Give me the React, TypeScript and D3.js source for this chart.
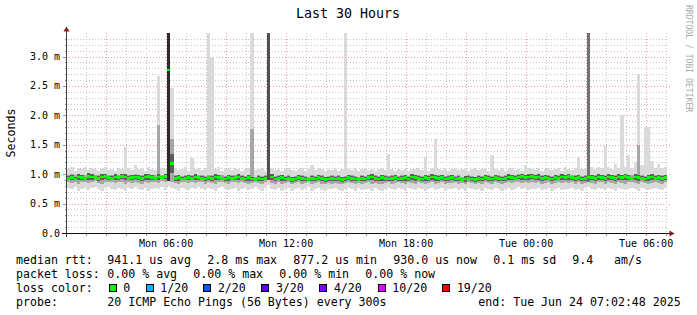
import React from "react";
import * as d3 from "d3";

// ---- data (values in hundredths of a millisecond, one slot = 10 minutes) ----
const startHour = 1 + 2 / 60 + 48 / 3600; // Mon 01:02:48
const spanHours = 30;
const slotHours = 1 / 6;

const medianRtt = [
  93, 94, 92, 95, 94, 93, 96, 95, 94, 93, 95, 96, 94, 93, 95, 94, 96, 95, 93, 94,
  95, 94, 93, 95, 96, 94, 93, 95, 94, 96, 277, 118, 93, 94, 92, 93, 94, 93, 95, 94,
  93, 92, 94, 93, 95, 94, 93, 92, 94, 93, 94, 95, 93, 92, 94, 92, 91, 93, 92, 93,
  500, 95, 92, 93, 94, 92, 93, 91, 92, 94, 93, 92, 91, 93, 92, 94, 93, 91, 92, 93,
  92, 93, 91, 92, 94, 93, 92, 91, 93, 92, 94, 95, 93, 92, 94, 93, 92, 93, 94, 92,
  93, 94, 92, 95, 94, 93, 92, 94, 93, 95, 94, 93, 94, 92, 93, 94, 92, 93, 91, 92,
  93, 92, 91, 93, 92, 94, 93, 92, 94, 93, 92, 93, 95, 94, 93, 95, 96, 94, 95, 96,
  94, 95, 93, 94, 93, 92, 94, 93, 95, 94, 96, 94, 93, 94, 92, 93, 95, 94, 93, 95,
  94, 93, 95, 94, 93, 95, 94, 96, 94, 93, 95, 94, 93, 92, 94, 95, 93, 94, 93, 94,
];
const minPing = [
  76, 74, 78, 72, 75, 77, 73, 76, 79, 74, 72, 76, 78, 75, 73, 77, 74, 71, 76, 75,
  78, 74, 73, 76, 72, 75, 77, 74, 78, 73, 80, 76, 74, 72, 77, 75, 73, 76, 74, 78,
  75, 73, 77, 74, 72, 76, 78, 74, 73, 75, 77, 72, 74, 76, 73, 75, 78, 74, 72, 76,
  82, 74, 73, 76, 72, 75, 77, 71, 74, 76, 73, 75, 78, 72, 74, 76, 73, 71, 75, 74,
  76, 73, 72, 75, 77, 74, 72, 76, 73, 75, 74, 72, 76, 73, 71, 75, 77, 74, 73, 76,
  74, 72, 76, 75, 73, 77, 74, 72, 75, 76, 73, 74, 77, 72, 75, 74, 76, 73, 75, 72,
  76, 74, 73, 75, 72, 76, 74, 73, 77, 75, 72, 74, 76, 73, 75, 78, 74, 76, 73, 75,
  74, 76, 73, 75, 77, 72, 74, 76, 73, 75, 74, 77, 73, 75, 72, 76, 78, 74, 73, 76,
  75, 73, 77, 74, 72, 76, 74, 73, 75, 77, 74, 72, 76, 75, 73, 74, 76, 75, 73, 76,
];
const lowerQuartile = [
  86, 85, 87, 84, 86, 87, 85, 86, 88, 85, 84, 86, 87, 86, 85, 87, 86, 84, 86, 85,
  87, 85, 84, 86, 85, 86, 87, 85, 88, 86, 88, 86, 85, 84, 87, 86, 85, 86, 85, 87,
  86, 84, 87, 85, 84, 86, 87, 85, 84, 86, 87, 85, 86, 85, 84, 85, 86, 85, 84, 86,
  90, 85, 84, 86, 84, 85, 86, 83, 85, 86, 84, 85, 86, 84, 85, 86, 84, 83, 85, 84,
  85, 84, 83, 85, 86, 85, 84, 85, 84, 85, 86, 84, 85, 84, 83, 85, 86, 84, 85, 86,
  85, 84, 86, 85, 84, 86, 85, 84, 85, 86, 84, 85, 86, 84, 85, 85, 86, 84, 85, 83,
  86, 85, 84, 85, 84, 86, 85, 84, 86, 85, 84, 85, 86, 85, 86, 87, 85, 86, 85, 86,
  85, 86, 84, 85, 86, 84, 85, 86, 85, 86, 85, 87, 84, 86, 84, 85, 87, 85, 84, 86,
  86, 84, 86, 85, 84, 86, 85, 84, 86, 87, 85, 84, 86, 85, 84, 85, 86, 85, 84, 86,
];
const upperQuartile = [
  99, 100, 98, 101, 99, 98, 102, 100, 99, 98, 100, 101, 99, 98, 100, 99, 101, 100, 98, 99,
  100, 99, 98, 100, 101, 99, 98, 183, 99, 101, 400, 160, 98, 99, 97, 98, 99, 98, 100, 99,
  98, 97, 99, 98, 100, 99, 98, 97, 99, 98, 99, 100, 98, 97, 99, 176, 96, 98, 97, 98,
  500, 100, 97, 98, 99, 97, 98, 96, 97, 99, 98, 97, 96, 98, 97, 99, 98, 96, 97, 98,
  97, 98, 96, 97, 99, 98, 97, 96, 98, 97, 99, 100, 98, 97, 99, 98, 97, 98, 99, 97,
  98, 99, 97, 100, 99, 98, 97, 99, 98, 100, 99, 98, 99, 97, 98, 99, 97, 98, 96, 97,
  98, 97, 96, 98, 97, 99, 98, 97, 99, 98, 97, 98, 100, 99, 98, 100, 101, 99, 100, 101,
  99, 100, 98, 99, 98, 97, 99, 98, 100, 99, 101, 99, 98, 99, 97, 98, 400, 99, 98, 100,
  99, 98, 100, 99, 98, 100, 99, 101, 99, 98, 100, 150, 98, 97, 99, 100, 98, 99, 98, 99,
];
const maxPing = [
  108, 112, 106, 110, 109, 113, 107, 111, 108, 106, 110, 112, 107, 109, 105, 111, 108, 146, 110, 107,
  115, 108, 110, 106, 112, 109, 107, 267, 111, 108, 400, 247, 110, 107, 109, 112, 106, 127, 108, 110,
  107, 111, 400, 300, 109, 112, 106, 108, 110, 107, 111, 109, 106, 108, 110, 400, 107, 109, 111, 106,
  500, 110, 107, 109, 106, 108, 110, 107, 105, 109, 111, 106, 108, 115, 107, 110, 108, 106, 109, 107,
  110, 106, 108, 400, 109, 107, 110, 106, 108, 111, 107, 109, 106, 108, 110, 107, 134, 109, 106, 108,
  107, 110, 106, 109, 108, 111, 107, 129, 106, 110, 159, 108, 107, 110, 106, 109, 111, 107, 108, 110,
  106, 109, 111, 107, 108, 110, 106, 132, 109, 107, 110, 106, 108, 111, 107, 109, 106, 115, 110, 108,
  107, 110, 106, 109, 111, 107, 108, 110, 106, 112, 109, 107, 111, 129, 108, 110, 400, 112, 109, 113,
  110, 148, 112, 109, 118, 111, 200, 113, 132, 110, 121, 271, 115, 180, 180, 122, 111, 118, 110, 112,
];
// slots where the smoke is dense (many pings high)
const denseSlots = [30, 60, 156];
const denseShade = ["#2c2c2c", "#505050", "#727272"];

const yTickValues = [0, 0.5, 1, 1.5, 2, 2.5, 3];
const yTickLabels = ["0.0", "0.5 m", "1.0 m", "1.5 m", "2.0 m", "2.5 m", "3.0 m"];
const xLabelHours = [6, 12, 18, 24, 30];
const xLabels = ["Mon 06:00", "Mon 12:00", "Mon 18:00", "Tue 00:00", "Tue 06:00"];

const lossColors = ["#00ff00", "#00b8ff", "#0059ff", "#5e00ff", "#7e00ff", "#dd00ff", "#ff0000"];
const lossLabels = ["0", "1/20", "2/20", "3/20", "4/20", "10/20", "19/20"];
const lossBoxX = [108.7, 145.7, 203.3, 261.3, 319.3, 377.7, 442.3];

const legendRows = [
  { y: 263.5, items: [["median rtt:", 16], ["941.1 us avg", 107.3], ["2.8 ms max", 207.3], ["877.2 us min", 293.3], ["930.0 us now", 393.3], ["0.1 ms sd", 493.3], ["9.4", 572.3], ["am/s", 614]] },
  { y: 277.5, items: [["packet loss:", 16], ["0.00 % avg", 107.3], ["0.00 % max", 193.3], ["0.00 % min", 279.3], ["0.00 % now", 365.3]] },
  { y: 291.5, items: [["loss color:", 16]] },
  { y: 305.5, items: [["probe:", 16], ["20 ICMP Echo Pings (56 Bytes) every 300s", 107.3], ["end: Tue Jun 24 07:02:48 2025", 478.3]] },
];

const MONO = "'DejaVu Sans Mono', monospace";

export default function App() {
  const x = d3.scaleLinear().domain([startHour, startHour + spanHours]).range([67, 667]);
  const y = d3.scaleLinear().domain([0, 3.4]).range([233, 33]);
  const v = (h: number) => y(h / 100);
  const sx = (i: number) => x(startHour + i * slotHours);
  const sw = sx(1) - sx(0);

  const hourLines = d3.range(Math.ceil(startHour), startHour + spanHours + 0.001, 1);
  const tenths = d3.range(1, 34).filter((k) => k % 5 !== 0).map((k) => k / 10);
  const majorY = yTickValues.filter((t) => t > 0);

  const minorGrid = "#c6c6c6";
  const majorGrid = "#e4a0a0";

  return (
    <svg width={697} height={315} style={{ position: "absolute", left: 0, top: 0, background: "#fff" }}>
      <defs>
        <clipPath id="plot">
          <rect x={67} y={33} width={600} height={200} />
        </clipPath>
      </defs>
      <rect x={0} y={0} width={697} height={315} fill="#fff" />

      {/* grid */}
      <g shapeRendering="crispEdges">
        {tenths.map((t) => (
          <line key={"hy" + t} x1={65} x2={668} y1={Math.round(y(t)) + 0.5} y2={Math.round(y(t)) + 0.5} stroke={minorGrid} strokeDasharray="1,2" />
        ))}
        {hourLines.filter((h) => h % 3 !== 0).map((h) => (
          <line key={"vx" + h} x1={Math.round(x(h)) + 0.5} x2={Math.round(x(h)) + 0.5} y1={33} y2={236} stroke={minorGrid} strokeDasharray="1,2" />
        ))}
        {majorY.map((t) => (
          <line key={"my" + t} x1={63} x2={670} y1={Math.round(y(t)) + 0.5} y2={Math.round(y(t)) + 0.5} stroke={majorGrid} strokeDasharray="1,2" />
        ))}
        {hourLines.filter((h) => h % 3 === 0).map((h) => (
          <line key={"mx" + h} x1={Math.round(x(h)) + 0.5} x2={Math.round(x(h)) + 0.5} y1={33} y2={237} stroke={majorGrid} strokeDasharray="1,2" />
        ))}
      </g>

      {/* smoke */}
      <g clipPath="url(#plot)" shapeRendering="crispEdges">
        {maxPing.map((hi, i) => (
          <rect key={"l" + i} x={sx(i)} width={sw + 0.05} y={v(hi)} height={v(minPing[i]) - v(hi)} fill="#dadada" />
        ))}
        {upperQuartile.map((q3, i) => (
          <rect key={"m" + i} x={sx(i)} width={sw + 0.05} y={v(q3)} height={v(lowerQuartile[i]) - v(q3)} fill="#a6a6a6" />
        ))}
        {medianRtt.map((m, i) => {
          const half = (m - lowerQuartile[i]) / 2;
          const top = Math.min(m + half, upperQuartile[i]);
          const bot = m - half;
          return <rect key={"c" + i} x={sx(i)} width={sw + 0.05} y={v(top)} height={Math.max(0, v(bot) - v(top))} fill="#5e5e5e" />;
        })}
        {denseSlots.map((s, k) => (
          <rect key={"d" + s} x={sx(s)} width={sw + 0.05} y={v(upperQuartile[s])} height={v(lowerQuartile[s]) - v(upperQuartile[s])} fill={denseShade[k]} />
        ))}
        {medianRtt.map((m, i) => (
          <rect key={"g" + i} x={sx(i)} width={sw + 0.05} y={v(m) - 1.3} height={2.6} fill={lossColors[0]} />
        ))}
      </g>

      {/* axes */}
      <g shapeRendering="crispEdges">
        {tenths.map((t) => (
          <line key={"ty" + t} x1={65} x2={67} y1={Math.round(y(t)) + 0.5} y2={Math.round(y(t)) + 0.5} stroke="#888" />
        ))}
        {yTickValues.map((t) => (
          <line key={"tY" + t} x1={63} x2={67} y1={Math.round(y(t)) + 0.5} y2={Math.round(y(t)) + 0.5} stroke="#c08080" />
        ))}
        {hourLines.map((h) => (
          <line key={"tx" + h} x1={Math.round(x(h)) + 0.5} x2={Math.round(x(h)) + 0.5} y1={233} y2={236} stroke={h % 3 === 0 ? "#d08080" : "#999"} />
        ))}
        <line x1={66.5} x2={66.5} y1={237} y2={31} stroke="#444" />
        <line x1={62} x2={670} y1={233.5} y2={233.5} stroke="#111" />
      </g>
      <path d="M63.5,31.5 L66.5,26.5 L69.5,31.5 Z" fill="#8b1a1a" />
      <path d="M669.5,230.5 L674.5,233.5 L669.5,236.5 Z" fill="#8b1a1a" />

      {/* axis labels */}
      {yTickValues.map((t, i) => (
        <text key={"yl" + t} x={60} y={y(t) + 3.5} textAnchor="end" fontFamily={MONO} fontSize={10} fill="#000">
          {yTickLabels[i]}
        </text>
      ))}
      {xLabelHours.map((h, i) => (
        <text key={"xl" + h} x={x(h)} y={246.5} textAnchor="middle" fontFamily={MONO} fontSize={10} fill="#000">
          {xLabels[i]}
        </text>
      ))}
      <text transform="translate(14.5,133) rotate(-90)" textAnchor="middle" fontFamily={MONO} fontSize={11.6} fill="#000">
        Seconds
      </text>
      <text x={348} y={18} textAnchor="middle" fontFamily={MONO} fontSize={13.3} fill="#000">
        Last 30 Hours
      </text>
      <text transform="translate(685.5,5) rotate(90)" fontFamily={MONO} fontSize={8.1} fill="#aaaaaa">
        RRDTOOL / TOBI OETIKER
      </text>

      {/* legend */}
      {legendRows.map((row) =>
        row.items.map(([t, px]) => (
          <text key={row.y + "-" + px} x={px as number} y={row.y} fontFamily={MONO} fontSize={11.6} fill="#000" style={{ whiteSpace: "pre" }}>
            {t}
          </text>
        ))
      )}
      {lossColors.map((c, i) => (
        <g key={"lc" + i}>
          <rect x={lossBoxX[i] + 0.5} y={284} width={7} height={7} fill={c} stroke="#000" strokeWidth={1} shapeRendering="crispEdges" />
          <text x={lossBoxX[i] + 14.6} y={291.5} fontFamily={MONO} fontSize={11.6} fill="#000">
            {lossLabels[i]}
          </text>
        </g>
      ))}
    </svg>
  );
}
